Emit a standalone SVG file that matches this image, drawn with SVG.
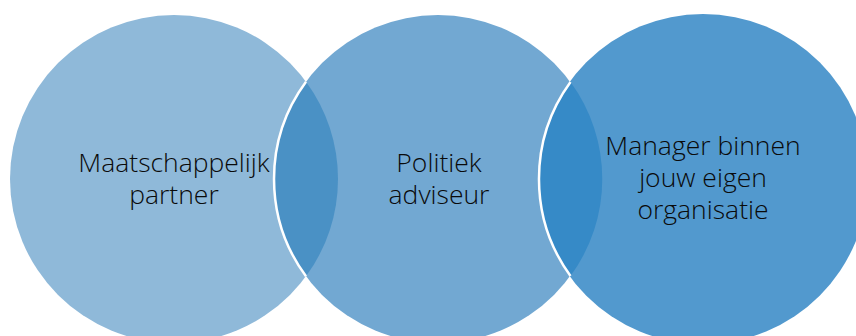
<svg xmlns="http://www.w3.org/2000/svg" width="856" height="336" viewBox="0 0 856 336">
<style>
text{font-family:"Open Sans","Liberation Sans",sans-serif;font-weight:300;font-size:26.5px;fill:#0a0a0a;text-anchor:middle}
.arc{fill:none;stroke:#fff;stroke-width:2.5}
</style>
<rect width="856" height="336" fill="#fff"/>
<g id="c1"><circle cx="174" cy="179" r="164" fill="#8FB9D9"/></g>
<g id="c2"><circle cx="438" cy="179" r="164" fill="#72A8D2"/></g>
<g id="c3"><circle cx="703" cy="179" r="165" fill="#5299CE"/></g>
<g id="lenses">
<path d="M306 81.7 A164 164 0 0 0 306 276.3 A164 164 0 0 0 306 81.7 Z" fill="#4A91C5"/>
<path d="M570.5 82 A165 165 0 0 0 570.5 276 A164 164 0 0 0 570.5 82 Z" fill="#368AC7"/>
<path class="arc" d="M306 81.7 A164 164 0 0 0 306 276.3"/>
<path class="arc" d="M570.5 82 A165 165 0 0 0 570.5 276"/>
</g>
<g id="t1"><text x="174" y="172">Maatschappelijk</text><text x="174" y="204">partner</text></g>
<g id="t2"><text x="439" y="172">Politiek</text><text x="439" y="204">adviseur</text></g>
<g id="t3"><text x="703" y="155">Manager binnen</text><text x="703" y="187">jouw eigen</text><text x="703" y="219">organisatie</text></g>
</svg>
